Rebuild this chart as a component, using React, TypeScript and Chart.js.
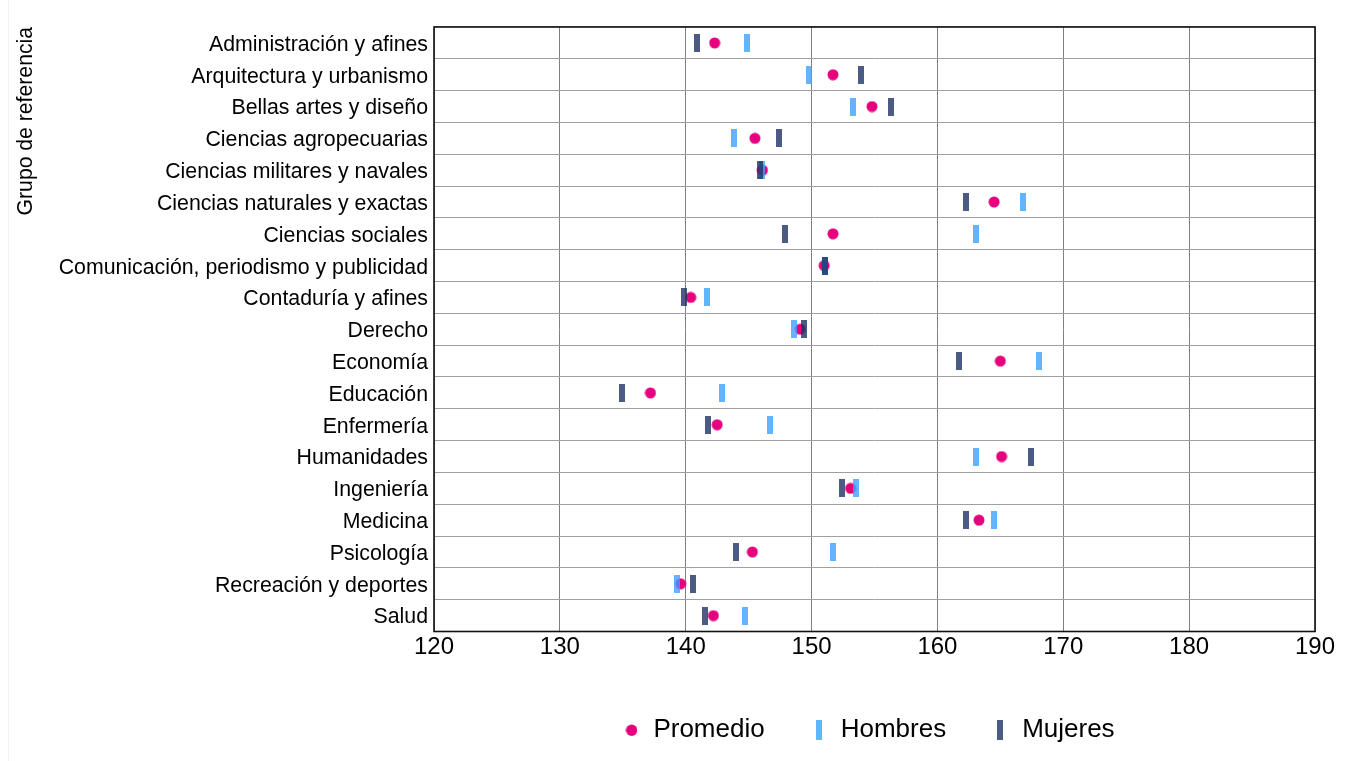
import React, { useEffect, useRef } from "react";
import { Chart, registerables } from "chart.js";

Chart.register(...registerables);

const categories = [
  "Administración y afines",
  "Arquitectura y urbanismo",
  "Bellas artes y diseño",
  "Ciencias agropecuarias",
  "Ciencias militares y navales",
  "Ciencias naturales y exactas",
  "Ciencias sociales",
  "Comunicación, periodismo y publicidad",
  "Contaduría y afines",
  "Derecho",
  "Economía",
  "Educación",
  "Enfermería",
  "Humanidades",
  "Ingeniería",
  "Medicina",
  "Psicología",
  "Recreación y deportes",
  "Salud",
];

const promedio = [
  142.3, 151.7, 154.8, 145.5, 146.1, 164.5, 151.7, 151.0, 140.4, 149.1,
  165.0, 137.2, 142.5, 165.1, 153.1, 163.3, 145.3, 139.6, 142.2,
];

const hombres = [
  144.9, 149.8, 153.3, 143.8, 146.1, 166.8, 163.1, 151.1, 141.7, 148.6,
  168.1, 142.9, 146.7, 163.1, 153.5, 164.5, 151.7, 139.3, 144.7,
];

const mujeres = [
  140.9, 153.9, 156.3, 147.4, 145.9, 162.3, 147.9, 151.1, 139.9, 149.4,
  161.7, 134.9, 141.8, 167.4, 152.4, 162.3, 144.0, 140.6, 141.5,
];

const xMin = 120;
const xMax = 190;
const xStep = 10;

const seriesNames = ["Promedio", "Hombres", "Mujeres"];
const yTitle = "Grupo de referencia";

const FONT = "'Liberation Sans', Arial, Helvetica, sans-serif";

function makeDot(color: string, d: number) {
  const c = document.createElement("canvas");
  c.width = d + 1;
  c.height = d + 1;
  const ctx = c.getContext("2d")!;
  ctx.fillStyle = color;
  ctx.beginPath();
  ctx.arc((d + 1) / 2, (d + 1) / 2, d / 2, 0, Math.PI * 2);
  ctx.fill();
  return c;
}

function makeBar(color: string, w: number, h: number) {
  const c = document.createElement("canvas");
  c.width = w;
  c.height = h;
  const ctx = c.getContext("2d")!;
  ctx.fillStyle = color;
  ctx.fillRect(0, 0, w, h);
  return c;
}

const framePlugin = {
  id: "frame",
  beforeDatasetsDraw(chart: any) {
    const { ctx, chartArea } = chart;
    ctx.save();
    ctx.strokeStyle = "#111";
    ctx.lineWidth = 1.6;
    ctx.strokeRect(
      chartArea.left,
      chartArea.top,
      chartArea.right - chartArea.left,
      chartArea.bottom - chartArea.top
    );
    ctx.restore();
  },
};

const legendShiftPlugin = {
  id: "legendShift",
  afterLayout(chart: any) {
    if (chart.legend) {
      chart.legend.left -= 12;
    }
  },
};

export default function App() {
  const ref = useRef<HTMLCanvasElement>(null);

  useEffect(() => {
    Chart.defaults.font.family = FONT;
    const dotImg = makeDot("#E6007E", 11);
    const hImg = makeBar("rgba(60,160,255,0.8)", 6, 18);
    const mImg = makeBar("rgba(30,50,100,0.8)", 6, 18);
    const legendImgs = [
      makeDot("#E6007E", 11.5),
      makeBar("rgba(60,160,255,0.8)", 6, 20),
      makeBar("rgba(30,50,100,0.8)", 6, 20),
    ];

    const chart = new Chart(ref.current!, {
      type: "line",
      data: {
        labels: categories,
        datasets: [
          {
            label: seriesNames[0],
            data: promedio,
            showLine: false,
            pointStyle: dotImg as any,
            backgroundColor: "#E6007E",
            borderColor: "#E6007E",
            order: 3,
          },
          {
            label: seriesNames[1],
            data: hombres,
            showLine: false,
            pointStyle: hImg as any,
            backgroundColor: "#63B3FF",
            borderColor: "#63B3FF",
            order: 2,
          },
          {
            label: seriesNames[2],
            data: mujeres,
            showLine: false,
            pointStyle: mImg as any,
            backgroundColor: "#4B5B83",
            borderColor: "#4B5B83",
            order: 1,
          },
        ],
      },
      options: {
        indexAxis: "y",
        animation: false,
        responsive: true,
        maintainAspectRatio: false,
        layout: { padding: { top: 19, right: 24, bottom: 0, left: 0 } },
        scales: {
          x: {
            type: "linear",
            min: xMin,
            max: xMax,
            ticks: {
              stepSize: xStep,
              font: { size: 24, family: FONT },
              color: "#000",
              padding: 1,
            },
            grid: { color: "#808080", drawTicks: false, lineWidth: 1 },
            border: { display: false },
            afterFit: (s: any) => {
              s.height = 40.5;
            },
          },
          y: {
            type: "category",
            offset: true,
            grid: { offset: true, color: "#a0a0a0", drawTicks: false, lineWidth: 1 },
            border: { display: false },
            ticks: {
              font: { size: 21.3, family: FONT },
              color: "#000",
              padding: 6,
              autoSkip: false,
              labelOffset: 2,
            },
            title: {
              display: true,
              text: yTitle,
              align: "end",
              color: "#000",
              font: { size: 21.2, family: FONT },
              padding: { top: 5.5, bottom: 0 },
            },
            afterFit: (s: any) => {
              s.width = 426;
            },
          },
        },
        plugins: {
          legend: {
            position: "bottom",
            fullSize: false,
            labels: {
              usePointStyle: true,
              boxWidth: 18,
              padding: 45,
              color: "#000",
              font: { size: 26, family: FONT },
              sort: (a: any, b: any) => a.datasetIndex - b.datasetIndex,
              generateLabels: (ch: any) => {
                const items = (Chart.defaults.plugins.legend.labels as any).generateLabels(ch);
                items.forEach((it: any) => {
                  it.pointStyle = legendImgs[it.datasetIndex];
                });
                return items;
              },
            },
          },
          tooltip: { enabled: false },
        },
      } as any,
      plugins: [framePlugin, legendShiftPlugin],
    });
    return () => chart.destroy();
  }, []);

  return (
    <div style={{ position: "relative", width: 1331, height: 745 }}>
      <div
        style={{
          position: "fixed",
          left: 8,
          top: 0,
          width: 1,
          height: "100vh",
          background: "#f2f2f2",
        }}
      />
      <canvas ref={ref} />
    </div>
  );
}
